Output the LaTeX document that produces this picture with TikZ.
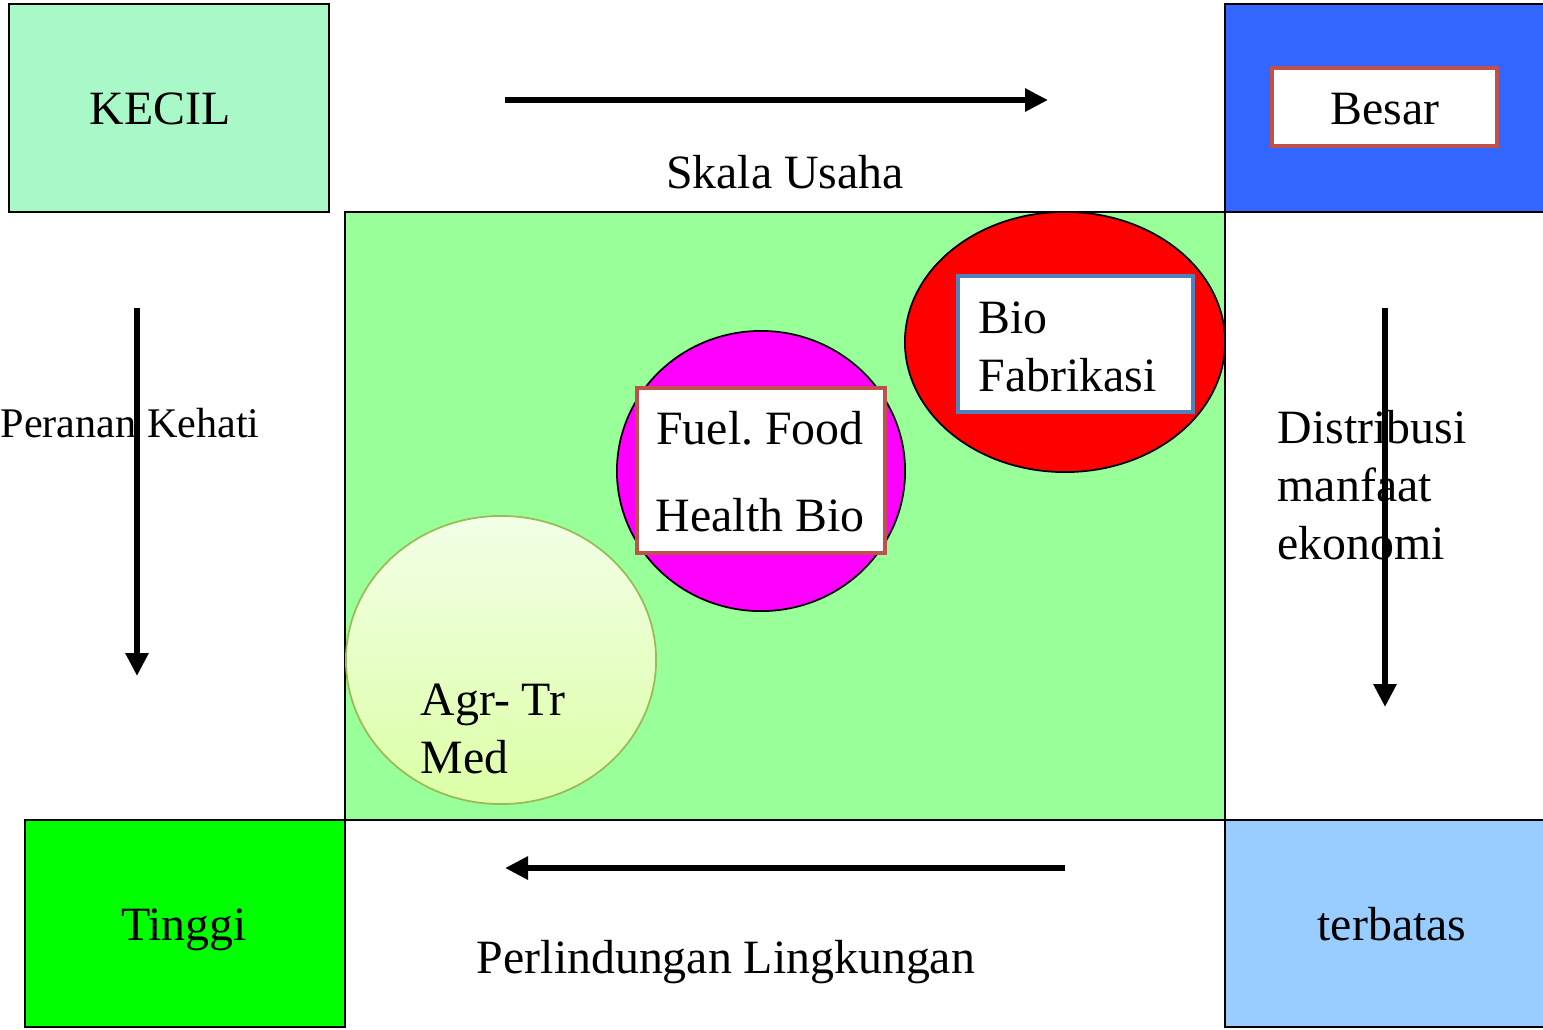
\documentclass[tikz,border=0pt]{standalone}
\usepackage{fontspec}
\setmainfont{Liberation Serif}
\usetikzlibrary{arrows.meta,positioning,shapes.geometric}
\frenchspacing
\definecolor{kecilc}{HTML}{A8F8C8}
\definecolor{besarc}{HTML}{3366FF}
\definecolor{fieldc}{HTML}{99FF99}
\definecolor{tinggic}{HTML}{00FF00}
\definecolor{terbatasc}{HTML}{99CCFF}
\definecolor{fabc}{HTML}{FF0000}
\definecolor{ffhc}{HTML}{FF00FF}
\definecolor{tagred}{HTML}{C0504D}
\definecolor{tagblue}{HTML}{4F81BD}
\definecolor{agrline}{HTML}{9BBB59}
\definecolor{agrtop}{HTML}{F2FFE6}
\definecolor{agrbot}{HTML}{DCFFA6}
\tikzset{
  corner/.style={rectangle, draw=black, line width=0.6pt, inner sep=0pt},
  txt/.style={font=\fontsize{13.6}{16.4}\selectfont, inner sep=0pt, align=left},
  tag/.style={rectangle, draw, fill=white, line width=1.1pt, inner sep=0pt},
  blob/.style={ellipse, draw=black, line width=0.5pt, inner sep=0pt},
  flow/.style={-{Triangle[length=0.23cm, width=0.22cm]}, line width=1.7pt},
}
\begin{document}
\begin{tikzpicture}[x=0.01cm, y=-0.01cm]
  \useasboundingbox (0,0) rectangle (1543,1029);
  % middle field and the four corners
  \node[corner, fill=fieldc, minimum width=8.80cm, minimum height=6.08cm] (field) at (785,516) {};
  \node[corner, fill=kecilc, minimum width=3.20cm, minimum height=2.08cm] (kecil) at (169,108) {};
  \node[corner, fill=besarc, minimum width=3.30cm, minimum height=2.08cm] (besar) at (1390,108) {};
  \node[corner, fill=tinggic, minimum width=3.20cm, minimum height=2.07cm] (tinggi) at (185,923.5) {};
  \node[corner, fill=terbatasc, minimum width=3.30cm, minimum height=2.07cm] (terbatas) at (1390,923.5) {};
  \node[tag, draw=tagred, minimum width=2.25cm, minimum height=0.78cm] (besartag) at (1384.5,107) {};
  % blobs
  \node[blob, fill=fabc, minimum width=3.20cm, minimum height=2.60cm] (fab) at (1065,342) {};
  \node[blob, fill=ffhc, minimum width=2.88cm, minimum height=2.80cm] (ffh) at (761,471) {};
  \node[blob, draw=agrline, top color=agrtop, bottom color=agrbot, minimum width=3.10cm, minimum height=2.88cm] (agr) at (501,660) {};
  \node[tag, draw=tagblue, minimum width=2.35cm, minimum height=1.36cm] (fabtag) at (1075.5,344) {};
  \node[tag, draw=tagred, minimum width=2.48cm, minimum height=1.65cm] (ffhtag) at (761,470.5) {};
  % labels
  \node[txt, anchor=base] (kecillbl) at (160,124) {KECIL};
  \node[txt, anchor=base] (besarlbl) at (1385,124) {Besar};
  \node[txt, anchor=base] (tinggilbl) at (184,940) {Tinggi};
  \node[txt, anchor=base] (terbataslbl) at (1392,940) {terbatas};
  \node[txt, anchor=base] (skala) at (785,188) {Skala Usaha};
  \node[txt, anchor=base] (perlindungan) at (726,973) {Perlindungan Lingkungan};
  \node[txt, anchor=base west, font=\fontsize{12}{14}\selectfont] (peranan) at (0,437) {Peranan Kehati};
  \node[txt, anchor=base west] (distribusi) at (1277,559) {Distribusi\\manfaat\\ekonomi};
  \node[txt, anchor=base west] (biolbl) at (978,391) {Bio\\Fabrikasi};
  \node[txt, anchor=base, align=center, font=\fontsize{13.6}{24.7}\selectfont] (ffhlbl) at (760,531) {Fuel. Food\\Health Bio};
  \node[txt, anchor=base west] (agrlbl) at (420,773) {Agr- Tr\\Med};
  % arrows
  \coordinate (skalaS) at (505,100);
  \coordinate (skalaE) at (1048,100);
  \coordinate (perananS) at (137,308);
  \coordinate (perananE) at (137,676);
  \coordinate (distS) at (1385,308);
  \coordinate (distE) at (1385,707);
  \coordinate (perlS) at (1065,868);
  \coordinate (perlE) at (505,868);
  \draw[flow] (skalaS) -- (skalaE);
  \draw[flow] (perananS) -- (perananE);
  \draw[flow] (distS) -- (distE);
  \draw[flow] (perlS) -- (perlE);
\end{tikzpicture}
\end{document}
